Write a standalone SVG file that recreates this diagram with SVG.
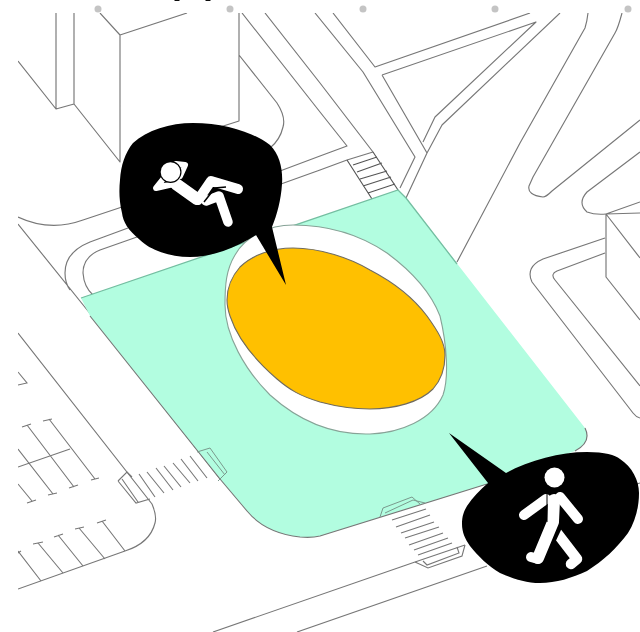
<svg xmlns="http://www.w3.org/2000/svg" width="640" height="632" viewBox="0 0 640 632">
<style>
.l{fill:none;stroke:#777;stroke-width:1.150;stroke-linejoin:round}
.t{fill:none;stroke:#777;stroke-width:1.100}
.d{fill:none;stroke:#555;stroke-width:1.150}
.g{fill:none;stroke:#7a9a8d;stroke-width:1}
.w{fill:none;stroke:#fff;stroke-linecap:round;stroke-linejoin:round}
</style>
<defs>
<clipPath id="c"><rect x="18" y="13" width="622" height="619"/></clipPath>
<filter id="soft" x="0" y="0" width="100%" height="100%"><feGaussianBlur stdDeviation="0.35"/></filter>
</defs>
<rect width="640" height="632" fill="#fff"/>
<g filter="url(#soft)">
<g id="page-marks" fill="#c4c4c4">
<circle cx="98" cy="9" r="3.500"/><circle cx="230" cy="9" r="3.500"/><circle cx="363" cy="9" r="3.500"/><circle cx="495" cy="9" r="3.500"/><circle cx="628" cy="9" r="3.500"/>
<path d="M174 0h6l-1 1h-4zM205 0h6l-1 1h-4z" fill="#111"/>
</g>
<g id="site-lines" clip-path="url(#c)">
<path class="l" d="M18 61L56 109V13M74 13V104L56 109M74 104L120 162V35M100 13L120 35L187 13"/>
<path class="l" d="M239 13V121L217 128M239 55L277 103Q286 117 283 127Q280 140 270 148"/>
<path class="l" d="M242 13L320 112L347 146L320 156L280 171M265 13L320 83L373 152L347 160L320 170L281 184"/>
<path class="l" d="M315 13L363 72L415 157L400 188M333 13L375 67L530 13M382 75L536 22L435 117L423 142M382 75L427 153L406 198M560 13L442 125L427 153"/>
<path class="d" d="M347 160L372 199M373 152L398 190M353 165L377 157M357 172L382 163M360 179L387 171M363 186L391 177M368 193L395 184"/>
<path class="l" d="M457 262L520 143L585 28Q587 22 588 13M622 13Q618 28 615 33L533 177L529 186Q527 195 543 197Q546 197 552 191L640 120M640 152L587 192Q577 203 587 212Q595 215 606 214"/>
<path class="l" d="M606 214L640 202M606 214L640 213M606 214V277L640 320M606 214L640 258M605 238L543 259Q525 267 532 282L633 413Q636 417 640 418M605 253L557 271Q550 274 555 280L640 386"/>
<path class="l" d="M18 217Q50 232 83 220L122 207M128 228L90 242Q65 252 65 273Q65 283 70 290M137 237L100 250Q83 257 83 273Q84 287 93 295M18 224L92 316L220 479"/>
<path class="l" d="M213 632L415 562L465 545M297 632L487 566M637 484L640 483"/>
<path class="l" d="M18 333L152 504Q157 516 155 523Q150 543 125 551L18 589"/>
<path class="t" d="M18 372L27 383L18 385M49 419L95 479M43 421L52 419M91 480L99 478M27 425L74 487M22 427L31 424M69 488L78 485M18 449L53 494M48 495L57 493M18 484L32 501M27 503L36 500M18 467L70 449"/>
<path class="t" d="M102 521L125 551M97 523L106 520M79 528L105 559M75 529L84 527M58 535L83 566M54 537L63 534M38 543L63 573M33 544L43 542M18 551L41 581M16 554L21 551"/>
<path class="t" d="M139 474L155 497M147 472L164 493M156 468L173 490M164 466L181 487M173 463L190 483M181 459L198 481M190 456L207 478M118 481L127 472L132 477M118 481L136 503L150 499M122 479L138 502"/>
<path class="t" d="M392 520L426 509M396 527L430 515M401 533L434 522M405 538L439 527M409 545L443 533M414 550L448 538M418 555L452 543M415 562L428 568L462 556L465 545M423 561L427 565L459 553L457 547"/>
</g>
<g id="plaza">
<path d="M81 298L398 190L406 198L585 428Q592 442 575 451L487 484L320 536Q312 538 300 537Q265 533 247 511L220 479L90 316Z" fill="#b2fde0"/>
<path d="M81 298L398 190L406 198L457 264" fill="none" stroke="#74bea1" stroke-width="1.300"/>
<path class="l" d="M90 316L220 479L247 511Q265 533 300 537Q312 538 320 536L487 484M575 451Q592 442 585 428"/>
<path class="g" d="M197 452L210 448L227 472L218 481M207 452L225 475M380 517L383 508L412 497L420 504M385 513L413 500L425 503"/>
</g>
<g id="pond">
<path d="M293 225C268 225 245 237 235 255C226 270 225 285 225 305C225 335 245 370 270 395C300 422 335 435 370 434C400 433 432 420 443 395C449 378 447 345 440 316C430 290 410 270 387 253C362 236 330 225 293 225Z" fill="#fff" stroke="#87a397" stroke-width="1.100"/>
<path d="M293 248C320 248 350 258 370 270C395 283 415 300 427 316C437 330 445 342 445 355C445 368 441 380 433 389C420 402 395 409 370 409C350 409 335 406 320 402C300 396 290 390 277 379C255 360 238 340 230 316C228 310 227 305 227 300C227 288 232 276 240 267C252 255 272 248 293 248Z" fill="#ffc000" stroke="#6f6b60" stroke-width="1.100"/>
</g>
<g id="rest-bubble">
<path d="M193 123C225 123 255 133 270 145C280 155 283 170 282 184C281 200 277 215 272 227L286 285L256 235C235 248 212 257 190 257C170 257 150 250 140 240C128 230 123 222 122 213C119 200 119 190 120 180C121 165 125 153 133 143C147 130 170 123 193 123Z" fill="#000"/>
<path class="w" d="M176 184L197 199" stroke-width="12"/>
<path class="w" d="M198 200L211 181L238 189" stroke-width="10"/>
<path class="w" d="M206 201L219 196L228 222" stroke-width="9.500"/>
<path d="M204 202L215 188L226 187" fill="none" stroke="#000" stroke-width="1.500"/>
<path class="w" d="M178 183L156 188L164 178M180 176L185 165L176 164" stroke-width="6"/>
<circle cx="170.500" cy="172" r="11" fill="#000"/>
<circle cx="170.500" cy="172" r="9.800" fill="#fff"/>
</g>
<g id="walk-bubble">
<path d="M449 433L506 473C530 460 560 452 587 452C605 452 615 455 620 459C632 467 639 480 639 493C639 508 635 522 628 533C617 548 603 561 587 571C572 578 556 583 540 583C525 583 512 578 500 573C488 566 478 556 470 546C465 539 462 532 462 524C462 516 464 511 467 506C473 497 480 490 488 483Z" fill="#000"/>
<circle cx="554.500" cy="477.500" r="10" fill="#fff"/>
<path class="w" d="M546 499L524 515" stroke-width="10"/>
<path class="w" d="M560 497L578 519" stroke-width="10"/>
<path class="w" d="M557 533L577 559L571 564" stroke-width="10.500"/>
<path d="M557 522L541 556" fill="none" stroke="#000" stroke-width="14"/>
<path class="w" d="M554 500L553 522L538 558" stroke-width="12"/>
<path class="w" d="M538 559L531 557" stroke-width="10"/>
<path d="M547 494V522" stroke="#000" stroke-width="1" fill="none"/>
</g>
</g>
</svg>
